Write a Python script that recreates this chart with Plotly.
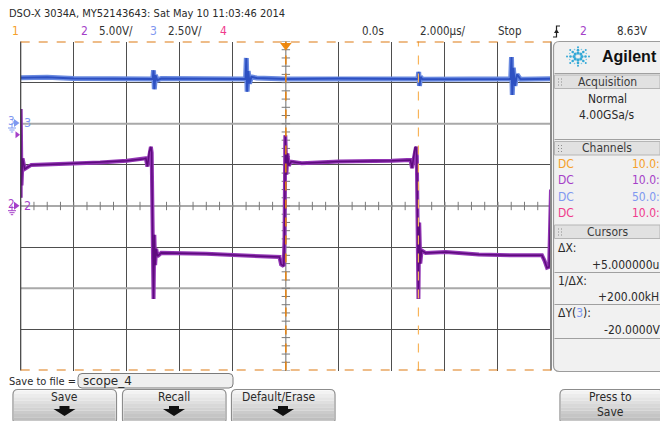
import numpy as np
import plotly.graph_objects as go

W, H = 660, 421

# ---- acquisition data (time in µs, amplitude in V) ----
ch2_t = [-10.00, -10.00, -9.97, -9.93, -9.85, -9.60, -8.50, -7.00, -6.00, -5.40,
         -5.28, -5.22, -5.15, -5.09, -5.06, -5.03, -4.99, -4.96, -4.93, -4.89,
         -4.84, -4.70, -3.00, -1.77, -0.39, -0.24, -0.18, -0.08, -0.05, -0.02,
         0.02, 0.06, 0.11, 0.20, 0.60, 2.00, 4.00, 4.70, 4.76, 4.80,
         4.87, 4.91, 4.94, 4.97, 5.00, 5.03, 5.07, 5.12, 5.27, 6.03,
         7.28, 8.53, 9.66, 9.75, 9.85, 9.93, 9.97, 10.00]
ch2_v = [1.0, 11.8, 2.5, 5.8, 4.5, 5.0, 5.1, 5.3, 5.5, 5.7,
         5.8, 4.8, 6.6, 7.2, 6.5, -2.0, -11.3, -3.5, -7.2, -5.2,
         -6.1, -5.7, -5.8, -6.0, -6.1, -6.2, -7.1, -7.3, -4.0, 8.6,
         3.8, 6.4, 4.9, 5.4, 5.2, 5.4, 5.5, 5.6, 4.6, 5.5,
         7.1, 7.2, 6.0, -3.0, -11.3, -2.0, -7.0, -5.4, -5.7, -5.6,
         -5.9, -6.0, -6.0, -6.6, -7.5, -7.4, -1.5, 2.0]

ch3_t = [-10.00, -9.00, -8.00, -6.00, -5.02, -4.99, -4.96, -4.92, -4.85, -4.70,
         -3.00, -1.52, -1.49, -1.46, -1.42, -1.37, -1.30, -1.10, 0.00, 2.00,
         4.98, 5.01, 5.04, 5.08, 5.15, 7.00, 8.48, 8.51, 8.54, 8.58,
         8.64, 8.72, 8.85, 10.00]
ch3_v = [2.80, 2.82, 2.75, 2.72, 2.72, 3.25, 2.10, 2.95, 2.65, 2.75,
         2.72, 2.72, 4.00, 1.95, 3.20, 2.45, 2.85, 2.78, 2.72, 2.75,
         2.72, 3.15, 2.30, 2.85, 2.70, 2.72, 2.72, 4.05, 1.75, 3.40,
         2.30, 3.00, 2.70, 2.74]

# ---- front-panel settings ----
time_per_div = 2.0          # µs/div
ch2_scale = 5.0             # V/div
ch3_scale = 2.5             # V/div
ch3_ground_div = 2          # ch3 reference sits 2 div above centre
trigger_level = 8.63        # V on ch2
cursor_x = [0.0, 5.0]       # µs
cursor_y3 = [5.0, -15.0]    # V on ch3

FONT = "Liberation Sans Narrow, DejaVu Sans Condensed, Arial Narrow, sans-serif"
C_CH1, C_CH2, C_CH3, C_CH4 = "#f5a02a", "#a53fc8", "#7f98f0", "#f03a8c"
C_TXT = "#2a2a2a"

# plot window in pixels
PX0, PX1, PY0, PY1 = 20.7, 551.0, 41.5, 370.5


def X(px):
    return px / W


def Y(py):
    return 1 - py / H


fig = go.Figure()

# graticule minor ticks along the centre lines
hticks = np.arange(-10, 10.01, 0.5)
vticks = np.arange(-20, 20.01, 1.0)
fig.add_trace(go.Scatter(x=hticks, y=np.zeros_like(hticks), mode="markers",
                         marker=dict(symbol="line-ns", size=6,
                                     line=dict(color="#7a7a7a", width=1)),
                         hoverinfo="skip", showlegend=False))
fig.add_trace(go.Scatter(x=np.zeros_like(vticks), y=vticks, mode="markers",
                         marker=dict(symbol="line-ew", size=6,
                                     line=dict(color="#7a7a7a", width=1)),
                         hoverinfo="skip", showlegend=False))

# channel 3 (blue) – noise band plus core
fig.add_trace(go.Scatter(x=ch3_t, y=ch3_v, yaxis="y2", mode="lines",
                         line=dict(color="#6a8ae0", width=5), hoverinfo="skip",
                         showlegend=False))
fig.add_trace(go.Scatter(x=ch3_t, y=ch3_v, yaxis="y2", mode="lines",
                         line=dict(color="#2d50c2", width=2), hoverinfo="skip",
                         showlegend=False))

# channel 2 (purple)
fig.add_trace(go.Scatter(x=ch2_t, y=ch2_v, mode="lines",
                         line=dict(color="#9235b4", width=4), hoverinfo="skip",
                         showlegend=False))
fig.add_trace(go.Scatter(x=ch2_t, y=ch2_v, mode="lines",
                         line=dict(color="#5e0b7e", width=1.5), hoverinfo="skip",
                         showlegend=False))

# trigger position marker
fig.add_trace(go.Scatter(x=[cursor_x[0]], y=[ch3_scale * ch3_ground_div - 0.25],
                         yaxis="y2", mode="markers",
                         marker=dict(symbol="triangle-down", size=10, color="#f08a10"),
                         cliponaxis=False, hoverinfo="skip", showlegend=False))

shapes = []
# lighter reference lines
for yv in (-10, 0, 10):
    shapes.append(dict(type="line", xref="x", yref="y", x0=-10, x1=10, y0=yv, y1=yv,
                       line=dict(color="#a9a9a9", width=2), layer="between"))
shapes.append(dict(type="line", xref="x", yref="y", x0=0, x1=0, y0=-20, y1=20,
                   line=dict(color="#a9a9a9", width=1.5), layer="between"))
# plot frame
shapes.append(dict(type="line", xref="paper", yref="paper", x0=X(PX0), x1=X(PX0),
                   y0=Y(PY0), y1=Y(PY1), line=dict(color="#3c3c3c", width=1.2)))
shapes.append(dict(type="line", xref="paper", yref="paper", x0=X(PX1), x1=X(PX1),
                   y0=Y(PY0), y1=Y(PY1), line=dict(color="#8a8a8a", width=2)))

# cursors
shapes.append(dict(type="line", xref="x", yref="paper", x0=cursor_x[0], x1=cursor_x[0],
                   y0=Y(PY1), y1=Y(PY0), line=dict(color="#e88410", width=1.5, dash="dash")))
shapes.append(dict(type="line", xref="x", yref="paper", x0=cursor_x[1], x1=cursor_x[1],
                   y0=Y(PY1), y1=Y(PY0), line=dict(color="#f8b45a", width=1.2, dash="dash")))
for cy in cursor_y3:
    shapes.append(dict(type="line", xref="paper", yref="y2", x0=X(PX0), x1=X(PX1),
                       y0=cy, y1=cy, line=dict(color="#dd7a12", width=2, dash="dash")))

# trigger level arrow on the left
ty = 205.7 - trigger_level / ch2_scale * 41.1
shapes.append(dict(type="path", xref="paper", yref="paper",
                   path=f"M{X(15.5)},{Y(ty-3.5)} L{X(20)},{Y(ty)} L{X(15.5)},{Y(ty+3.5)} Z",
                   fillcolor=C_CH2, line=dict(width=0)))


def ground_marker(py, color):
    out = []
    out.append(dict(type="path", xref="paper", yref="paper",
                    path=f"M{X(14)},{Y(py-4)} L{X(19.5)},{Y(py)} L{X(14)},{Y(py+4)} Z",
                    fillcolor=color, line=dict(width=0)))
    # ground symbol
    out.append(dict(type="line", xref="paper", yref="paper", x0=X(12), x1=X(12),
                    y0=Y(py), y1=Y(py + 5), line=dict(color=color, width=1)))
    for i, hw in enumerate((4, 2.6, 1.2)):
        yy = py + 5 + i * 2
        out.append(dict(type="line", xref="paper", yref="paper", x0=X(12 - hw), x1=X(12 + hw),
                        y0=Y(yy), y1=Y(yy), line=dict(color=color, width=1)))
    return out


shapes += ground_marker(123.0, C_CH3)
shapes += ground_marker(205.7, C_CH2)


def rrect(x0, y0, x1, y1, r):
    return (f"M{X(x0+r)},{Y(y0)} L{X(x1-r)},{Y(y0)} Q{X(x1)},{Y(y0)} {X(x1)},{Y(y0+r)} "
            f"L{X(x1)},{Y(y1-r)} Q{X(x1)},{Y(y1)} {X(x1-r)},{Y(y1)} "
            f"L{X(x0+r)},{Y(y1)} Q{X(x0)},{Y(y1)} {X(x0)},{Y(y1-r)} "
            f"L{X(x0)},{Y(y0+r)} Q{X(x0)},{Y(y0)} {X(x0+r)},{Y(y0)} Z")


# ---- right-hand info panel ----
shapes.append(dict(type="path", xref="paper", yref="paper", path=rrect(553.5, 41.5, 668, 371.5, 6),
                   fillcolor="#f1f1f1", line=dict(color="#9c9c9c", width=1.2)))
for (b0, b1) in ((75, 88.5), (141.5, 155), (225, 238.5)):
    shapes.append(dict(type="rect", xref="paper", yref="paper", x0=X(554.5), x1=X(660),
                       y0=Y(b0), y1=Y(b1), fillcolor="#e1e1e1",
                       line=dict(color="#b5b5b5", width=1)))
    for gx in (558, 561):
        for gy in (b0 + 3.5, b0 + 6.5, b0 + 9.5):
            shapes.append(dict(type="rect", xref="paper", yref="paper", x0=X(gx), x1=X(gx + 1),
                               y0=Y(gy), y1=Y(gy + 1), fillcolor="#8c8c8c", line=dict(width=0)))
for sy in (73.5, 139.5, 272.5, 304.5, 338.5):
    shapes.append(dict(type="line", xref="paper", yref="paper", x0=X(554.5), x1=X(660),
                       y0=Y(sy), y1=Y(sy), line=dict(color="#a0a0a0", width=1)))

# Agilent spark logo
lcx, lcy = 578.0, 56.5
for k in range(8):
    ang = np.pi / 4 * k
    for rr, sz in ((4.0, 1.6), (7.5, 1.3), (11.0, 1.0)):
        cx, cy = lcx + rr * np.cos(ang), lcy + rr * np.sin(ang) * 0.85
        shapes.append(dict(type="circle", xref="paper", yref="paper",
                           x0=X(cx - sz), x1=X(cx + sz), y0=Y(cy - sz), y1=Y(cy + sz),
                           fillcolor="#35a9d6", line=dict(width=0)))
for k in range(8):
    ang = np.pi / 4 * k + np.pi / 8
    cx, cy = lcx + 9.0 * np.cos(ang), lcy + 9.0 * np.sin(ang) * 0.85
    shapes.append(dict(type="circle", xref="paper", yref="paper",
                       x0=X(cx - 0.8), x1=X(cx + 0.8), y0=Y(cy - 0.8), y1=Y(cy + 0.8),
                       fillcolor="#7cc8e6", line=dict(width=0)))

# ---- bottom softkeys ----
def softkey(x0, x1, y0=389.5, y1=424):
    out = []
    n = 10
    c0, c1 = np.array([0xf3, 0xf3, 0xf3]), np.array([0xb8, 0xb8, 0xb8])
    for i in range(n):
        c = (c0 + (c1 - c0) * i / (n - 1)).astype(int)
        out.append(dict(type="rect", xref="paper", yref="paper", x0=X(x0 + 1), x1=X(x1 - 1),
                        y0=Y(y0 + 1 + (y1 - y0 - 1) * i / n),
                        y1=Y(y0 + 1 + (y1 - y0 - 1) * (i + 1) / n),
                        fillcolor=f"rgb({c[0]},{c[1]},{c[2]})", line=dict(width=0)))
    out.append(dict(type="path", xref="paper", yref="paper", path=rrect(x0, y0, x1, y1, 5),
                    line=dict(color="#8c8c8c", width=1.2)))
    return out


def down_arrow(cx, cy):
    return dict(type="path", xref="paper", yref="paper",
                path=(f"M{X(cx-5)},{Y(cy-5)} L{X(cx+5)},{Y(cy-5)} L{X(cx+5)},{Y(cy-2)} "
                      f"L{X(cx+11)},{Y(cy-2)} L{X(cx)},{Y(cy+5)} L{X(cx-11)},{Y(cy-2)} "
                      f"L{X(cx-5)},{Y(cy-2)} Z"),
                fillcolor="#111111", line=dict(width=0))


for (a, b) in ((13, 116.5), (122.5, 226), (231.5, 335), (560, 664)):
    shapes += softkey(a, b)
for cx in (64.5, 174, 283):
    shapes.append(down_arrow(cx, 411))

# file-name box
shapes.append(dict(type="path", xref="paper", yref="paper", path=rrect(78, 373.5, 233, 388, 4),
                   fillcolor="#efefef", line=dict(color="#7a7a7a", width=1)))

# trigger-edge glyph in the status line
shapes.append(dict(type="path", xref="paper", yref="paper",
                   path=(f"M{X(553)},{Y(37)} L{X(556.5)},{Y(37)} L{X(556.5)},{Y(26)} "
                         f"L{X(560)},{Y(26)}"),
                   line=dict(color="#222222", width=1.2)))
shapes.append(dict(type="path", xref="paper", yref="paper",
                   path=f"M{X(554)},{Y(33)} L{X(556.5)},{Y(29)} L{X(559)},{Y(33)} Z",
                   fillcolor="#222222", line=dict(width=0)))

# ---- text ----
ann = []


def txt(s, px, py, color=C_TXT, size=12, anchor="left", family=FONT, bold=False):
    if bold:
        s = f"<b>{s}</b>"
    ann.append(dict(text=s, x=X(px), y=Y(py), xref="paper", yref="paper",
                    xanchor=anchor, yanchor="middle", showarrow=False,
                    font=dict(family=family, size=size, color=color)))


txt("DSO-X 3034A, MY52143643: Sat May 10 11:03:46 2014", 7, 13.5, size=11)
txt("1", 10, 31, C_CH1, 12)
txt("2", 79, 31, C_CH2, 12)
txt(f"{ch2_scale:.2f}V/", 97, 31, "#333333", 11.5)
txt("3", 148, 31, C_CH3, 12)
txt(f"{ch3_scale:.2f}V/", 166, 31, "#333333", 11.5)
txt("4", 218, 31, C_CH4, 12)
txt("0.0s", 373, 31, "#333333", 11.5, "center")
txt(f"{time_per_div:.3f}µs/", 443, 31, "#333333", 11.5, "center")
txt("Stop", 510, 31, "#333333", 11.5, "center")
txt("2", 583, 31, C_CH2, 12, "center")
txt(f"{trigger_level:.2f}V", 632, 31, "#333333", 11.5, "center")

# channel reference labels
txt("3", 6, 121.5, C_CH3, 11.5)
txt("3", 22, 123, C_CH3, 12.5)
txt("2", 6, 204, C_CH2, 11.5)
txt("2", 22, 205.7, C_CH2, 12.5)

# panel text
txt("Agilent", 600, 56.5, "#111111", 16, family="Liberation Sans, Arial, sans-serif", bold=True)
txt("Acquisition", 607, 82, "#3a3a3a", 12, "center")
txt("Normal", 607, 98.5, "#2a2a2a", 12, "center")
txt("4.00GSa/s", 607, 114.5, "#2a2a2a", 12, "center")
txt("Channels", 607, 148.5, "#3a3a3a", 12, "center")
for i, (c, val) in enumerate(zip((C_CH1, C_CH2, C_CH3, C_CH4), ("10.0:", "10.0:", "50.0:", "10.0:"))):
    yy = 164 + i * 16.3
    txt("DC", 556, yy, c, 12)
    txt(val, 662, yy, c, 12, "right")
txt("Cursors", 607, 232, "#3a3a3a", 12, "center")
txt("ΔX:", 556, 248, "#2a2a2a", 12)
txt(f"+{cursor_x[1]-cursor_x[0]:.6f}u", 661, 265, "#2a2a2a", 12, "right")
txt("1/ΔX:", 556, 281, "#2a2a2a", 12)
txt(f"+{1000/(cursor_x[1]-cursor_x[0]):.2f}kH", 661, 297, "#2a2a2a", 12, "right")
txt(f"ΔY(<span style='color:{C_CH3}'>3</span>):", 556, 313, "#2a2a2a", 12)
txt(f"{cursor_y3[1]-cursor_y3[0]:.4f}V", 663, 330, "#2a2a2a", 12, "right")

# bottom bar
txt("Save to file =", 7, 381, "#2a2a2a", 11)
txt("scope_4", 81, 381, "#2a2a2a", 12, family="DejaVu Sans, sans-serif")
txt("Save", 64, 397, "#2a2a2a", 12, "center")
txt("Recall", 174, 397, "#2a2a2a", 12, "center")
txt("Default/Erase", 279, 397, "#2a2a2a", 12, "center")
txt("Press to", 610, 397, "#2a2a2a", 12, "center")
txt("Save", 610, 412, "#2a2a2a", 12, "center")

xr = [-5 * time_per_div, 5 * time_per_div]
fig.update_layout(
    width=W, height=H,
    margin=dict(l=0, r=0, t=0, b=0),
    paper_bgcolor="white", plot_bgcolor="white",
    showlegend=False,
    xaxis=dict(domain=[X(PX0), X(PX1)], range=xr, dtick=time_per_div, tick0=0,
               showgrid=True, gridcolor="#4e4e4e", gridwidth=1, zeroline=False,
               showticklabels=False, ticks="", showline=False, fixedrange=True),
    yaxis=dict(domain=[Y(PY1), Y(PY0)], range=[-4 * ch2_scale, 4 * ch2_scale],
               dtick=ch2_scale, tick0=0, showgrid=True, gridcolor="#4e4e4e", gridwidth=1,
               zeroline=False, showticklabels=False, ticks="", showline=False, fixedrange=True),
    yaxis2=dict(overlaying="y", range=[(-4 - ch3_ground_div) * ch3_scale,
                                       (4 - ch3_ground_div) * ch3_scale],
                showgrid=False, zeroline=False, showticklabels=False, ticks="",
                showline=False, fixedrange=True),
    shapes=shapes,
    annotations=ann,
)

fig.write_html("out.html")
